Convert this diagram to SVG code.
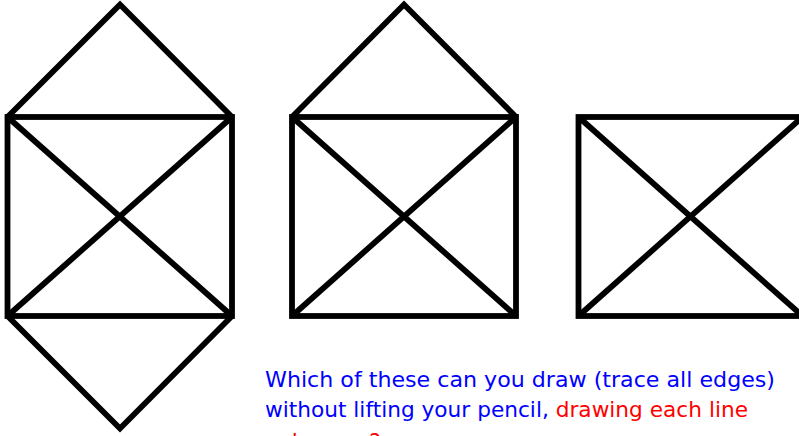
<svg xmlns="http://www.w3.org/2000/svg" width="799" height="436" viewBox="0 0 799 436">
<style>
.e{stroke:#000;stroke-width:5.8;fill:none;stroke-linecap:butt;stroke-linejoin:miter}
.t{font-family:"DejaVu Sans","Noto Sans CJK JP",sans-serif;font-size:21.5px}
.b{fill:#0000ff}.r{fill:#ff0000}
</style>
<rect width="799" height="436" fill="#fff"/>
<g id="fig1">
<rect class="e" x="7.5" y="117" width="224.5" height="199"/>
<polyline class="e" points="7.5,117 120,4.5 232,117"/>
<polyline class="e" points="7.5,316 120,428.5 232,316"/>
<line class="e" x1="7.5" y1="117" x2="232" y2="316"/>
<line class="e" x1="232" y1="117" x2="7.5" y2="316"/>
</g>
<g id="fig2">
<rect class="e" x="292" y="117" width="224" height="199"/>
<polyline class="e" points="292,117 404,4.5 516,117"/>
<line class="e" x1="292" y1="117" x2="516" y2="316"/>
<line class="e" x1="516" y1="117" x2="292" y2="316"/>
</g>
<g id="fig3">
<rect class="e" x="578.5" y="117" width="224" height="199"/>
<line class="e" x1="578.5" y1="117" x2="802.5" y2="316"/>
<line class="e" x1="802.5" y1="117" x2="578.5" y2="316"/>
</g>
<g id="caption" class="t">
<text x="265" y="387" class="b" textLength="510" lengthAdjust="spacingAndGlyphs">Which of these can you draw (trace all edges)</text>
<text x="265" y="417" textLength="483" lengthAdjust="spacingAndGlyphs"><tspan class="b">without lifting your pencil, </tspan><tspan class="r">drawing each line</tspan></text>
<text x="265" y="449" class="r">only once?</text>
</g>
</svg>
